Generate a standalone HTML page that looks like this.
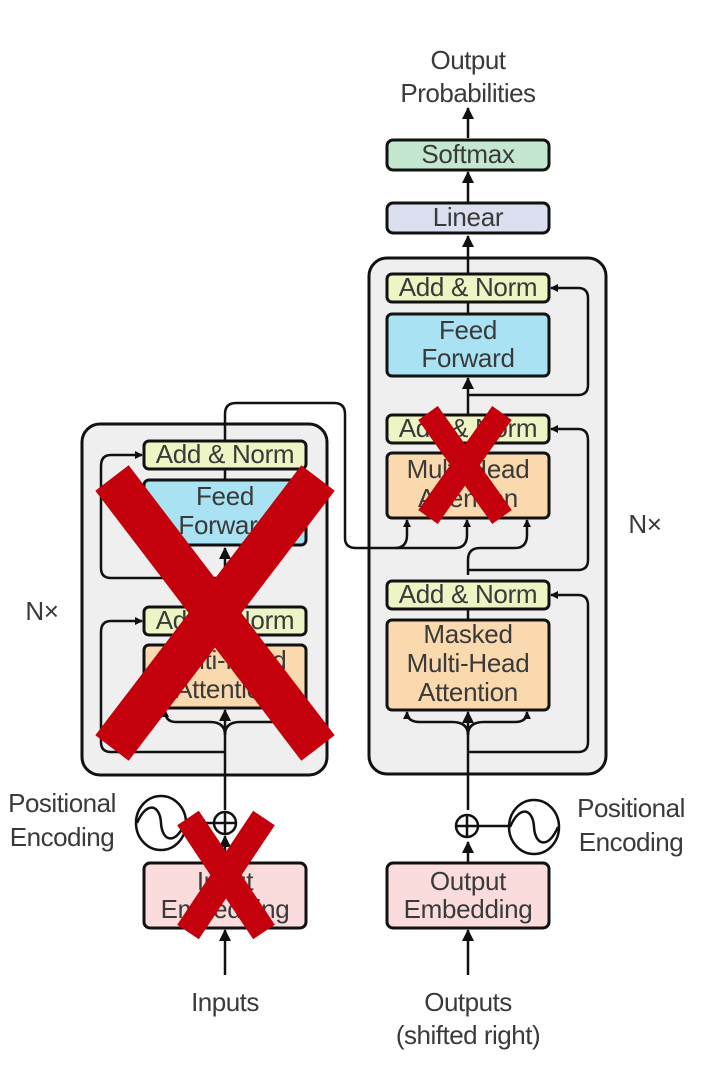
<!DOCTYPE html>
<html><head><meta charset="utf-8"><style>
html,body{margin:0;padding:0;background:#fff;}
svg{display:block;}
text{font-family:"Liberation Sans",sans-serif;fill:#3a3a3a;font-size:26px;text-anchor:middle;}
</style></head><body>
<svg width="710" height="1076" viewBox="0 0 710 1076" xmlns="http://www.w3.org/2000/svg">
<defs>
<marker id="a" markerWidth="8" markerHeight="8" refX="7" refY="4" orient="auto" markerUnits="userSpaceOnUse"><path d="M0,0 L8,4 L0,8 z" fill="#111"/></marker>
<marker id="b" markerWidth="12" markerHeight="12" refX="11" refY="6" orient="auto" markerUnits="userSpaceOnUse"><path d="M0,0 L12,6 L0,12 z" fill="#111"/></marker>
</defs>
<g stroke="#111" stroke-width="3" fill="none">
<rect x="82" y="424" width="245" height="351" rx="18" fill="#efefef"/>
<rect x="369" y="258" width="237" height="516" rx="18" fill="#efefef"/>
</g>
<g stroke="#111" stroke-width="2.5" fill="none">
<path d="M468 138 V108" marker-end="url(#b)"/>
<path d="M468 203 V172" marker-end="url(#b)"/>
<path d="M468 274 V236" marker-end="url(#b)"/>
<path d="M468 862 V842" marker-end="url(#b)"/>
<path d="M468 810 V712" marker-end="url(#b)"/>
<path d="M468 609 V620"/>
<path d="M468 443 V453"/>
<path d="M468 302 V314"/>
<path d="M468 415 V378" marker-end="url(#b)"/>
<path d="M468 735 Q468 722 452 722 H420 Q407 722 407 712" marker-end="url(#a)"/>
<path d="M468 735 Q468 722 484 722 H515 Q527 722 527 712" marker-end="url(#a)"/>
<path d="M468 752 H578 Q588 752 588 742 V605 Q588 595 578 595 H551" marker-end="url(#a)"/>
<path d="M468 570 H578 Q588 570 588 560 V440 Q588 429 578 429 H551" marker-end="url(#a)"/>
<path d="M468 395 H578 Q588 395 588 385 V298 Q588 288 578 288 H551" marker-end="url(#a)"/>
<path d="M468 575 V560 Q468 548 480 548 H515 Q527 548 527 535 V520" marker-end="url(#a)"/>
<path d="M225 441 V414 Q225 403 236 403 H334 Q345 403 345 414 V538 Q345 548 356 548 H395 Q407 548 407 535 V520" marker-end="url(#a)"/>
<path d="M395 548 H455 Q467 548 467 535 V520" marker-end="url(#a)"/>
<path d="M225 975 V930" marker-end="url(#b)"/>
<path d="M468 975 V930" marker-end="url(#b)"/>
<path d="M225 862 V836" marker-end="url(#b)"/>
<path d="M225 810 V710" marker-end="url(#b)"/>
<path d="M225 635 V645"/>
<path d="M225 469 V480"/>
<path d="M225 607 V548" marker-end="url(#b)"/>
<path d="M225 735 Q225 722 210 722 H176 Q165 722 165 710" marker-end="url(#a)"/>
<path d="M225 735 Q225 722 240 722 H275 Q285 722 285 710"/>
<path d="M225 752 H111 Q101 752 101 742 V632 Q101 621 111 621 H142" marker-end="url(#a)"/>
<path d="M225 578 H111 Q101 578 101 568 V466 Q101 455 111 455 H142" marker-end="url(#a)"/>
<path d="M186 823 H215"/>
<path d="M478 826 H508"/>
</g>
<g stroke="#111" stroke-width="3">
<rect x="387" y="140" width="162" height="30" rx="6" fill="#c4e8cf"/>
<rect x="387" y="203" width="162" height="30" rx="6" fill="#dcdff0"/>
<rect x="387" y="274" width="162" height="28" rx="5" fill="#eef5c4"/>
<rect x="387" y="314" width="162" height="62" rx="5" fill="#a9e2f2"/>
<rect x="387" y="415" width="162" height="28" rx="5" fill="#eef5c4"/>
<rect x="387" y="453" width="162" height="65" rx="5" fill="#fbd9ae"/>
<rect x="387" y="581" width="162" height="28" rx="5" fill="#eef5c4"/>
<rect x="387" y="620" width="162" height="90" rx="5" fill="#fbd9ae"/>
<rect x="144" y="441" width="162" height="28" rx="5" fill="#eef5c4"/>
<rect x="144" y="480" width="162" height="65" rx="5" fill="#a9e2f2"/>
<rect x="144" y="607" width="162" height="28" rx="5" fill="#eef5c4"/>
<rect x="144" y="645" width="162" height="63" rx="5" fill="#fbd9ae"/>
<rect x="144" y="863" width="162" height="65" rx="6" fill="#fbdcdc"/>
<rect x="387" y="863" width="162" height="65" rx="6" fill="#fbdcdc"/>
</g>
<g stroke="#111" stroke-width="2.5" fill="#fff">
<circle cx="225" cy="823" r="11"/><path d="M214 823 H236 M225 812 V834" fill="none"/>
<circle cx="467" cy="826" r="11"/><path d="M456 826 H478 M467 815 V837" fill="none"/>
<ellipse cx="161" cy="823" rx="25" ry="27"/>
<path d="M137 823 C147 800 160 805 161 823 C162 841 175 846 185 823" fill="none"/>
<ellipse cx="534" cy="827" rx="25" ry="27"/>
<path d="M510 827 C520 804 533 809 534 827 C535 845 548 850 558 827" fill="none"/>
</g>
<g font-size="22" letter-spacing="-0.3">
<text x="468" y="163">Softmax</text>
<text x="468" y="226">Linear</text>
<text x="468" y="296">Add &amp; Norm</text>
<text x="468" y="339">Feed</text>
<text x="468" y="367">Forward</text>
<text x="468" y="437">Add &amp; Norm</text>
<text x="468" y="478">Multi-Head</text>
<text x="468" y="507">Attention</text>
<text x="468" y="603">Add &amp; Norm</text>
<text x="468" y="643">Masked</text>
<text x="468" y="672">Multi-Head</text>
<text x="468" y="701">Attention</text>
<text x="225" y="463">Add &amp; Norm</text>
<text x="225" y="505">Feed</text>
<text x="225" y="534">Forward</text>
<text x="225" y="629">Add &amp; Norm</text>
<text x="225" y="669">Multi-Head</text>
<text x="225" y="698">Attention</text>
<text x="225" y="890">Input</text>
<text x="225" y="918">Embedding</text>
<text x="468" y="890">Output</text>
<text x="468" y="918">Embedding</text>
<text x="42" y="620">N×</text>
<text x="645" y="533">N×</text>
</g>
<g letter-spacing="-0.5">
<text x="468" y="69">Output</text>
<text x="468" y="102">Probabilities</text>
<text x="62" y="812">Positional</text>
<text x="62" y="846">Encoding</text>
<text x="631" y="817">Positional</text>
<text x="631" y="851">Encoding</text>
<text x="225" y="1011">Inputs</text>
<text x="468" y="1011">Outputs</text>
<text x="468" y="1044">(shifted right)</text>
</g>
<g stroke="#c4000c" stroke-linecap="butt" fill="none">
<path d="M112 478 L318 748 M318 478 L112 748" stroke-width="42"/>
<path d="M428 413 L502 517 M502 413 L428 517" stroke-width="24"/>
<path d="M188 818 L264 932 M264 818 L188 932" stroke-width="26"/>
</g>
</svg>
</body></html>
